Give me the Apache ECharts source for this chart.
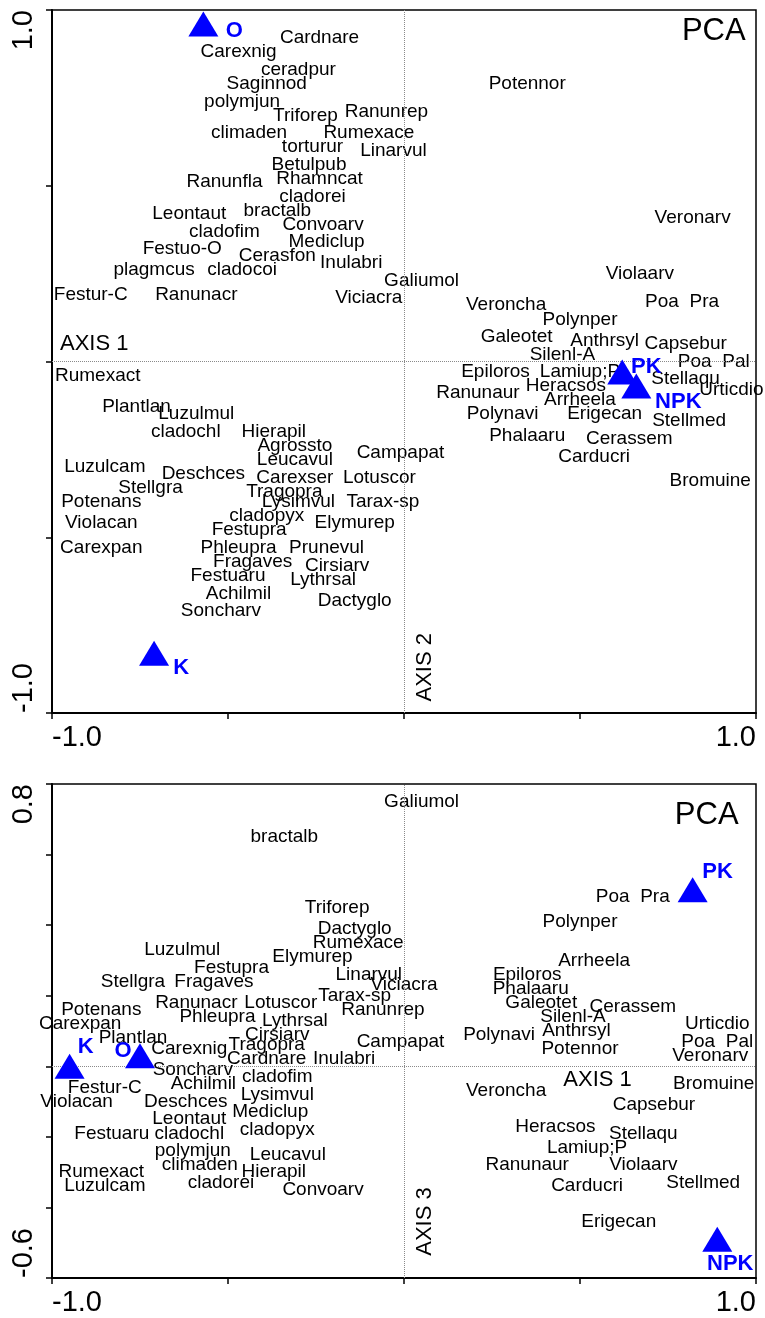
<!DOCTYPE html>
<html>
<head>
<meta charset="utf-8">
<script src="https://cdn.jsdelivr.net/npm/echarts@6/dist/echarts.min.js"></script>
<style>
html, body { margin: 0; padding: 0; background: #fff; }
#chart { width: 765px; height: 1318px; }
</style>
</head>
<body>
<div id="chart"></div>
<script>
// species scores, PCA axis 1 vs axis 2
const speciesTop = [
  ['Cardnare', -0.24, 0.92], ['Carexnig', -0.47, 0.88], ['ceradpur', -0.30, 0.83],
  ['Saginnod', -0.39, 0.79], ['polymjun', -0.46, 0.74], ['Triforep', -0.28, 0.70],
  ['Ranunrep', -0.05, 0.71], ['climaden', -0.44, 0.65], ['Rumexace', -0.10, 0.65],
  ['torturur', -0.26, 0.61], ['Linarvul', -0.03, 0.60], ['Betulpub', -0.27, 0.56],
  ['Ranunfla', -0.51, 0.51], ['Rhamncat', -0.24, 0.52], ['cladorei', -0.26, 0.47],
  ['Leontaut', -0.61, 0.42], ['bractalb', -0.36, 0.43], ['Convoarv', -0.23, 0.39],
  ['cladofim', -0.51, 0.37], ['Mediclup', -0.22, 0.34], ['Festuo-O', -0.63, 0.32],
  ['Cerasfon', -0.36, 0.30], ['Inulabri', -0.15, 0.28], ['plagmcus', -0.71, 0.26],
  ['cladocoi', -0.46, 0.26], ['Galiumol', 0.05, 0.23], ['Festur-C', -0.89, 0.19],
  ['Ranunacr', -0.59, 0.19], ['Viciacra', -0.10, 0.18], ['Potennor', 0.35, 0.79],
  ['Veronarv', 0.82, 0.41], ['Violaarv', 0.67, 0.25], ['Poa  Pra', 0.79, 0.17],
  ['Veroncha', 0.29, 0.16], ['Polynper', 0.50, 0.12], ['Galeotet', 0.32, 0.07],
  ['Anthrsyl', 0.57, 0.06], ['Capsebur', 0.80, 0.05], ['Silenl-A', 0.45, 0.02],
  ['Poa  Pal', 0.88, 0.00], ['Epiloros', 0.26, -0.03], ['Lamiup;P', 0.50, -0.03],
  ['Stellaqu', 0.80, -0.05], ['Heracsos', 0.46, -0.07], ['Urticdio', 0.93, -0.08],
  ['Ranunaur', 0.21, -0.09], ['Arrheela', 0.50, -0.11], ['Polynavi', 0.28, -0.15],
  ['Erigecan', 0.57, -0.15], ['Stellmed', 0.81, -0.17], ['Phalaaru', 0.35, -0.21],
  ['Cerassem', 0.64, -0.22], ['Carducri', 0.54, -0.27], ['Bromuine', 0.87, -0.34],
  ['Rumexact', -0.87, -0.04], ['Plantlan', -0.76, -0.13], ['Luzulmul', -0.59, -0.15],
  ['cladochl', -0.62, -0.20], ['Hierapil', -0.37, -0.20], ['Agrossto', -0.31, -0.24],
  ['Leucavul', -0.31, -0.28], ['Campapat', -0.01, -0.26], ['Luzulcam', -0.85, -0.30],
  ['Deschces', -0.57, -0.32], ['Carexser', -0.31, -0.33], ['Lotuscor', -0.07, -0.33],
  ['Stellgra', -0.72, -0.36], ['Tragopra', -0.34, -0.37], ['Potenans', -0.86, -0.40],
  ['Lysimvul', -0.30, -0.40], ['Tarax-sp', -0.06, -0.40], ['Violacan', -0.86, -0.46],
  ['cladopyx', -0.39, -0.44], ['Elymurep', -0.14, -0.46], ['Festupra', -0.44, -0.48],
  ['Carexpan', -0.86, -0.53], ['Phleupra', -0.47, -0.53], ['Prunevul', -0.22, -0.53],
  ['Fragaves', -0.43, -0.57], ['Cirsiarv', -0.19, -0.58], ['Festuaru', -0.50, -0.61],
  ['Lythrsal', -0.23, -0.62], ['Achilmil', -0.47, -0.66], ['Dactyglo', -0.14, -0.68],
  ['Soncharv', -0.52, -0.71]
];
const samplesTop = [
  ['O', -0.57, 0.96], ['K', -0.71, -0.83], ['PK', 0.62, -0.03], ['NPK', 0.66, -0.07]
];

// species scores, PCA axis 1 vs axis 3
const speciesBottom = [
  ['Galiumol', 0.05, 0.75], ['bractalb', -0.34, 0.65], ['Triforep', -0.19, 0.45],
  ['Dactyglo', -0.14, 0.39], ['Rumexace', -0.13, 0.35], ['Luzulmul', -0.63, 0.33],
  ['Elymurep', -0.26, 0.31], ['Festupra', -0.49, 0.28], ['Linarvul', -0.10, 0.26],
  ['Stellgra', -0.77, 0.24], ['Fragaves', -0.54, 0.24], ['Viciacra', 0.00, 0.23],
  ['Tarax-sp', -0.14, 0.20], ['Ranunacr', -0.59, 0.18], ['Lotuscor', -0.35, 0.18],
  ['Potenans', -0.86, 0.16], ['Ranunrep', -0.06, 0.16], ['Phleupra', -0.53, 0.14],
  ['Lythrsal', -0.31, 0.13], ['Carexpan', -0.92, 0.12], ['Cirsiarv', -0.36, 0.09],
  ['Campapat', -0.01, 0.07], ['Plantlan', -0.77, 0.08], ['Carexnig', -0.61, 0.05],
  ['Tragopra', -0.39, 0.06], ['Cardnare', -0.39, 0.02], ['Inulabri', -0.17, 0.02],
  ['Soncharv', -0.60, -0.01], ['cladofim', -0.36, -0.03], ['Festur-C', -0.85, -0.06],
  ['Achilmil', -0.57, -0.05], ['Lysimvul', -0.36, -0.08], ['Violacan', -0.93, -0.10],
  ['Deschces', -0.62, -0.10], ['Leontaut', -0.61, -0.15], ['Mediclup', -0.38, -0.13],
  ['Festuaru', -0.83, -0.19], ['cladochl', -0.61, -0.19], ['cladopyx', -0.36, -0.18],
  ['polymjun', -0.60, -0.24], ['Leucavul', -0.33, -0.25], ['Rumexact', -0.86, -0.30],
  ['climaden', -0.58, -0.28], ['Hierapil', -0.37, -0.30], ['Luzulcam', -0.85, -0.34],
  ['cladorei', -0.52, -0.33], ['Convoarv', -0.23, -0.35], ['Poa  Pra', 0.65, 0.48],
  ['Polynper', 0.50, 0.41], ['Arrheela', 0.54, 0.30], ['Epiloros', 0.35, 0.26],
  ['Phalaaru', 0.36, 0.22], ['Galeotet', 0.39, 0.18], ['Cerassem', 0.65, 0.17],
  ['Silenl-A', 0.48, 0.14], ['Urticdio', 0.89, 0.12], ['Polynavi', 0.27, 0.09],
  ['Anthrsyl', 0.49, 0.10], ['Poa  Pal', 0.89, 0.07], ['Potennor', 0.50, 0.05],
  ['Veronarv', 0.87, 0.03], ['Veroncha', 0.29, -0.07], ['Bromuine', 0.88, -0.05],
  ['Capsebur', 0.71, -0.11], ['Heracsos', 0.43, -0.17], ['Stellaqu', 0.68, -0.19],
  ['Lamiup;P', 0.52, -0.23], ['Ranunaur', 0.35, -0.28], ['Violaarv', 0.68, -0.28],
  ['Carducri', 0.52, -0.34], ['Stellmed', 0.85, -0.33], ['Erigecan', 0.61, -0.44]
];
const samplesBottom = [
  ['K', -0.95, 0.00], ['O', -0.75, 0.03], ['PK', 0.82, 0.50], ['NPK', 0.89, -0.49]
];

// axis names and plot titles, placed in data units
const notesTop = [['PCA', 0.88, 0.94], ['AXIS 1', -0.88, 0.05], ['AXIS 2', 0.06, -0.87]];
const notesBottom = [['PCA', 0.86, 0.71], ['AXIS 1', 0.55, -0.04], ['AXIS 3', 0.06, -0.44]];

const font = '"Liberation Sans", Arial, Helvetica, sans-serif';
const blue = '#0000ff';

// where the bold sample label sits relative to its triangle (px)
const sampleOffsets = [
  { O: [31, 7], K: [27, 15], PK: [24, -5], NPK: [42, 16] },
  { O: [-17, -5], K: [16, -19], PK: [25, -18], NPK: [13, 25] }
];

const isEnd = (v, a, b) => Math.abs(v - a) < 1e-6 || Math.abs(v - b) < 1e-6;

const makeX = (idx) => ({
  gridIndex: idx,
  type: 'value',
  min: -1,
  max: 1,
  interval: 0.5,
  axisLine: { show: true, onZero: false, lineStyle: { color: '#000', width: 2 } },
  axisTick: { show: true, inside: false, length: 6, lineStyle: { color: '#000', width: 1.5 } },
  splitLine: { show: false },
  axisLabel: {
    formatter: (v) => isEnd(v, -1, 1) ? v.toFixed(1) : '',
    color: '#000',
    fontSize: 29,
    fontFamily: font,
    margin: 10,
    alignMinLabel: 'left',
    alignMaxLabel: 'right',
  },
})

const makeY = (idx, min, max, interval) => ({
  gridIndex: idx,
  type: 'value',
  min: min,
  max: max,
  interval: interval,
  axisLine: { show: true, onZero: false, lineStyle: { color: '#000', width: 2 } },
  axisTick: { show: true, inside: false, length: 6, lineStyle: { color: '#000', width: 1.5 } },
  splitLine: { show: false },
  axisLabel: {
    rotate: 90,
    formatter: (v) => isEnd(v, min, max) ? v.toFixed(1) : '',
    color: '#000',
    fontSize: 29,
    fontFamily: font,
    margin: 14,
    alignMinLabel: 'left',
    alignMaxLabel: 'right',
  },
})

const speciesSeries = (list, idx) => ({
  type: 'scatter',
  xAxisIndex: idx,
  yAxisIndex: idx,
  silent: true,
  symbolSize: 1,
  itemStyle: { color: 'rgba(0,0,0,0)', opacity: 1 },
  data: list.map((d) => ({ name: d[0], value: [d[1], d[2]] })),
  label: {
    show: true,
    position: 'inside',
    formatter: '{b}',
    color: '#000',
    fontSize: 19,
    fontFamily: font,
  },
  markLine: {
    silent: true,
    symbol: 'none',
    label: { show: false },
    lineStyle: { color: '#8a8a8a', type: 'dotted', width: 1, opacity: 1 },
    data: [{ xAxis: 0 }, { yAxis: 0 }],
  },
  z: 3,
})

const sampleSeries = (list, idx) => ({
  type: 'scatter',
  xAxisIndex: idx,
  yAxisIndex: idx,
  silent: true,
  symbol: 'triangle',
  symbolSize: [30, 25],
  itemStyle: { color: blue, opacity: 1 },
  data: list.map((d) => ({
    name: d[0],
    value: [d[1], d[2]],
    label: { offset: sampleOffsets[idx][d[0]] },
  })),
  label: {
    show: true,
    position: 'inside',
    formatter: '{b}',
    color: blue,
    fontWeight: 'bold',
    fontSize: 22,
    fontFamily: font,
  },
  z: 5,
})

const noteSeries = (list, idx) => ({
  type: 'scatter',
  xAxisIndex: idx,
  yAxisIndex: idx,
  silent: true,
  symbolSize: 1,
  itemStyle: { color: 'rgba(0,0,0,0)', opacity: 1 },
  data: list.map((d) => ({
    name: d[0],
    value: [d[1], d[2]],
    label: {
      fontSize: d[0] === 'PCA' ? 31 : 22,
      rotate: (d[0] === 'AXIS 2' || d[0] === 'AXIS 3') ? 90 : 0,
    },
  })),
  label: {
    show: true,
    position: 'inside',
    formatter: '{b}',
    color: '#000',
    fontFamily: font,
  },
  z: 4,
})

const chart = echarts.init(document.getElementById('chart'))
chart.setOption({
  animation: false,
  backgroundColor: '#fff',
  grid: [
    { left: 52, top: 10, width: 704, height: 703, show: true, borderColor: '#000', borderWidth: 1.5 },
    { left: 52, top: 784, width: 704, height: 494, show: true, borderColor: '#000', borderWidth: 1.5 },
  ],
  xAxis: [makeX(0), makeX(1)],
  yAxis: [makeY(0, -1, 1, 0.5), makeY(1, -0.6, 0.8, 0.2)],
  series: [
    speciesSeries(speciesTop, 0),
    noteSeries(notesTop, 0),
    sampleSeries(samplesTop, 0),
    speciesSeries(speciesBottom, 1),
    noteSeries(notesBottom, 1),
    sampleSeries(samplesBottom, 1),
  ],
})
</script>
</body>
</html>
